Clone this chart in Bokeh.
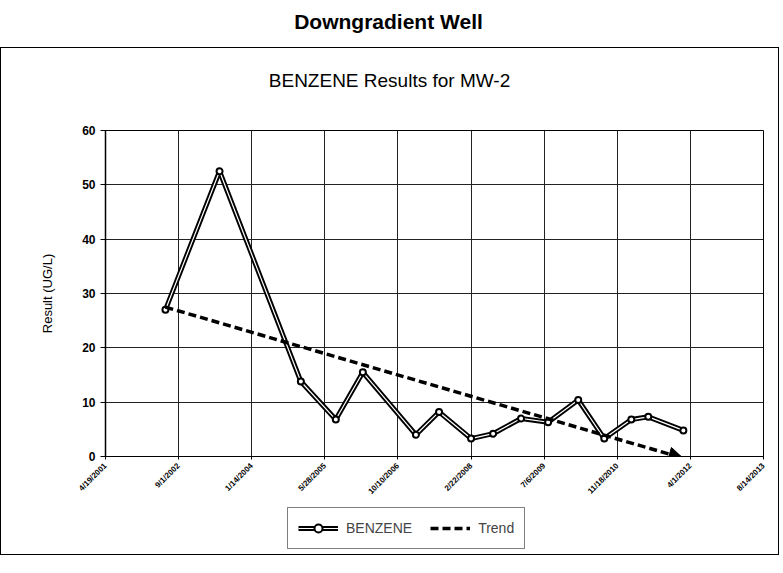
import pandas as pd
from bokeh.plotting import figure
from bokeh.models import (Range1d, FixedTicker, Legend, LegendItem, Arrow,
                          NormalHead, ColumnDataSource, Div)
from bokeh.layouts import column
from bokeh.embed import file_html
from bokeh.resources import INLINE
from math import pi

# ---- data ----
sample_dates = ["2002-06-03", "2003-06-08", "2004-12-15", "2005-08-11", "2006-02-12",
                "2007-02-10", "2007-07-18", "2008-02-22", "2008-07-22", "2009-01-29",
                "2009-08-02", "2010-02-24", "2010-08-21", "2011-02-22", "2011-06-18",
                "2012-02-13"]
benzene = [27.0, 52.5, 13.8, 6.8, 15.5, 4.0, 8.2, 3.3, 4.2, 7.0, 6.3, 10.4, 3.3, 6.8,
           7.3, 4.8]
trend_dates = ["2002-06-03", "2012-02-10"]
trend_vals = [27.5, -0.3]
tick_dates = ["2001-04-19", "2002-09-01", "2004-01-14", "2005-05-28", "2006-10-10",
              "2008-02-22", "2009-07-06", "2010-11-18", "2012-04-01", "2013-08-14"]
tick_labels = ["4/19/2001", "9/1/2002", "1/14/2004", "5/28/2005", "10/10/2006",
               "2/22/2008", "7/6/2009", "11/18/2010", "4/1/2012", "8/14/2013"]
y_ticks = [0, 10, 20, 30, 40, 50, 60]

FONT = "Liberation Sans"

def to_ms(s):
    return pd.Timestamp(s).value / 1e6

x_ms = [to_ms(d) for d in sample_dates]
t_ms = [to_ms(d) for d in trend_dates]
tick_ms = [to_ms(d) for d in tick_dates]

W = 767
p = figure(width=W, height=388, x_axis_type="datetime", output_backend="svg",
           toolbar_location=None, title=None,
           x_range=Range1d(tick_ms[0], tick_ms[-1]), y_range=Range1d(y_ticks[0], y_ticks[-1]),
           min_border_left=104, min_border_right=5, min_border_top=16, min_border_bottom=40)

p.outline_line_color = "black"
p.outline_line_width = 1

# axes
p.xaxis.ticker = FixedTicker(ticks=tick_ms)
p.xaxis.major_label_overrides = {t: l for t, l in zip(tick_ms, tick_labels)}
p.xaxis.major_label_orientation = pi / 4
p.xaxis.major_label_text_font = FONT
p.xaxis.major_label_text_font_size = "8px"
p.xaxis.major_label_text_font_style = "bold"
p.xaxis.major_label_text_color = "black"
p.xaxis.minor_tick_line_color = None
p.xaxis.major_tick_in = 0
p.xaxis.major_tick_out = 3
p.xaxis.axis_line_color = "black"

p.yaxis.ticker = FixedTicker(ticks=y_ticks)
p.yaxis.axis_label = "Result (UG/L)"
p.yaxis.axis_label_text_font = FONT
p.yaxis.axis_label_text_font_size = "13px"
p.yaxis.axis_label_text_font_style = "normal"
p.yaxis.axis_label_text_color = "black"
p.yaxis.axis_label_standoff = 24
p.yaxis.major_label_text_font = FONT
p.yaxis.major_label_text_font_size = "12px"
p.yaxis.major_label_text_font_style = "bold"
p.yaxis.major_label_text_color = "black"
p.yaxis.minor_tick_line_color = None
p.yaxis.major_tick_in = 0
p.yaxis.major_tick_out = 5
p.yaxis.axis_line_color = "black"
p.yaxis.axis_line_width = 1.5

p.xgrid.grid_line_color = "#222222"
p.ygrid.grid_line_color = "#222222"
p.xgrid.grid_line_width = 1
p.ygrid.grid_line_width = 1

def draw_series(fig):
    src = ColumnDataSource(dict(x=x_ms, y=benzene))
    b1 = fig.line("x", "y", source=src, line_color="black", line_width=5)
    b2 = fig.line("x", "y", source=src, line_color="white", line_width=1.2)
    b3 = fig.scatter("x", "y", source=src, size=6, fill_color="white", line_color="black",
                     line_width=2)
    tr = fig.line(t_ms, trend_vals, line_color="black", line_width=3.5, line_dash="8 4")
    return [b1, b2, b3], tr

draw_series(p)
p.add_layout(Arrow(x_start=t_ms[0], y_start=trend_vals[0], x_end=t_ms[1], y_end=trend_vals[1],
                   line_alpha=0,
                   end=NormalHead(size=14, fill_color="black", line_color="black")))

# legend strip (same series drawn outside its view range; only the legend shows)
lf = figure(width=W, height=52, output_backend="svg", toolbar_location=None,
            x_range=Range1d(0, 1), y_range=Range1d(0, 1),
            min_border_left=0, min_border_right=0, min_border_top=0, min_border_bottom=0)
lf.axis.visible = False
lf.grid.visible = False
lf.outline_line_color = None
brs, trr = draw_series(lf)
legend = Legend(items=[LegendItem(label="BENZENE", renderers=brs),
                       LegendItem(label="Trend", renderers=[trr])],
                orientation="horizontal", location=(182, 5),
                label_text_font=FONT, label_text_font_size="14px",
                border_line_color="black", border_line_width=1.5,
                glyph_width=40, label_standoff=8, spacing=18, padding=10, margin=0)
lf.add_layout(legend, "center")

head = Div(text="Downgradient Well", width=W, height=37,
           styles={"font-family": FONT, "font-size": "21px", "font-weight": "bold",
                   "text-align": "center", "line-height": "34px", "width": f"{W}px"})
sub = Div(text="BENZENE Results for MW-2", width=W, height=56,
          styles={"font-family": FONT, "font-size": "19px", "font-weight": "normal",
                  "text-align": "center", "line-height": "56px", "width": f"{W}px"})

box = column(sub, p, lf, spacing=0, styles={"border": "1.5px solid black"})
layout = column(head, box, spacing=0)
open("out.html", "w").write(file_html(layout, INLINE))
